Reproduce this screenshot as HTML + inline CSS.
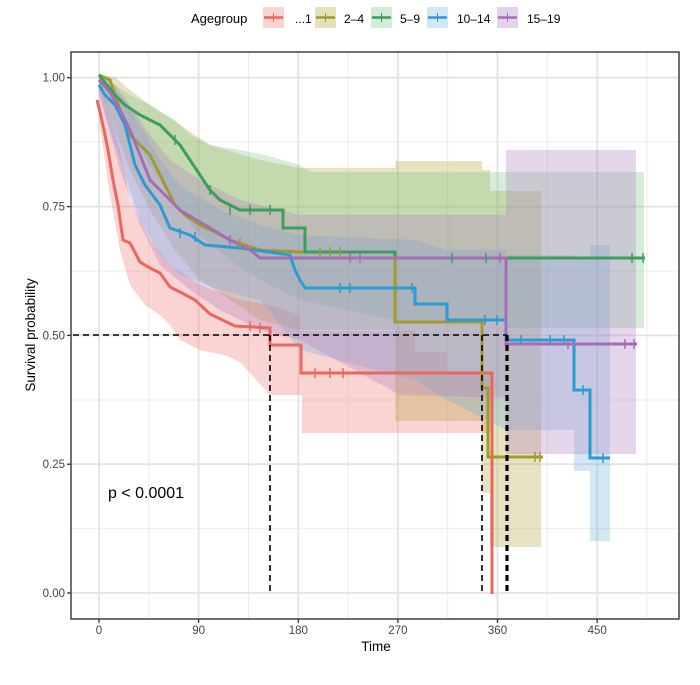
<!DOCTYPE html>
<html><head><meta charset="utf-8"><style>
body{margin:0;background:#fff;}
svg{display:block;font-family:"Liberation Sans",sans-serif;}
</style></head><body>
<svg width="700" height="685" viewBox="0 0 700 685" xmlns="http://www.w3.org/2000/svg">
<rect width="700" height="685" fill="#fff"/>
<!-- legend -->
<text x="191" y="23" font-size="13" fill="#000">Agegroup</text>
<g>
<rect x="263" y="7" width="21" height="21" fill="#F08080" fill-opacity="0.35"/><line x1="264" y1="17.5" x2="283" y2="17.5" stroke="#E8675E" stroke-width="2.5"/><line x1="273.5" y1="13" x2="273.5" y2="22" stroke="#E8675E" stroke-width="1"/>
<text x="295" y="23" font-size="12">...1</text>
<rect x="315" y="7" width="21" height="21" fill="#B5A840" fill-opacity="0.35"/><line x1="316" y1="17.5" x2="335" y2="17.5" stroke="#A39A2A" stroke-width="2.5"/><line x1="325.5" y1="13" x2="325.5" y2="22" stroke="#A39A2A"/>
<text x="344" y="23" font-size="12">2–4</text>
<rect x="371" y="7" width="21" height="21" fill="#6CBF7A" fill-opacity="0.3"/><line x1="372" y1="17.5" x2="391" y2="17.5" stroke="#3A9E5E" stroke-width="2.5"/><line x1="381.5" y1="13" x2="381.5" y2="22" stroke="#3A9E5E"/>
<text x="400" y="23" font-size="12">5–9</text>
<rect x="427" y="7" width="21" height="21" fill="#6AAFD8" fill-opacity="0.3"/><line x1="428" y1="17.5" x2="447" y2="17.5" stroke="#2B9BD2" stroke-width="2.5"/><line x1="437.5" y1="13" x2="437.5" y2="22" stroke="#2B9BD2"/>
<text x="457" y="23" font-size="12">10–14</text>
<rect x="497" y="7" width="21" height="21" fill="#B07FC0" fill-opacity="0.35"/><line x1="498" y1="17.5" x2="517" y2="17.5" stroke="#A46DB5" stroke-width="2.5"/><line x1="507.5" y1="13" x2="507.5" y2="22" stroke="#A46DB5"/>
<text x="527" y="23" font-size="12">15–19</text>
</g>
<!-- grid -->
<g stroke="#ebebeb" stroke-width="1">
<line x1="148.8" y1="52" x2="148.8" y2="619"/><line x1="248.5" y1="52" x2="248.5" y2="619"/><line x1="348" y1="52" x2="348" y2="619"/><line x1="447.7" y1="52" x2="447.7" y2="619"/><line x1="547.3" y1="52" x2="547.3" y2="619"/><line x1="647" y1="52" x2="647" y2="619"/>
<line x1="71" y1="142" x2="679" y2="142"/><line x1="71" y1="271" x2="679" y2="271"/><line x1="71" y1="400" x2="679" y2="400"/><line x1="71" y1="528.6" x2="679" y2="528.6"/>
</g>
<g stroke="#e3e3e3" stroke-width="1.8">
<line x1="99" y1="52" x2="99" y2="619"/><line x1="198.6" y1="52" x2="198.6" y2="619"/><line x1="298.3" y1="52" x2="298.3" y2="619"/><line x1="397.9" y1="52" x2="397.9" y2="619"/><line x1="497.5" y1="52" x2="497.5" y2="619"/><line x1="597.2" y1="52" x2="597.2" y2="619"/>
<line x1="71" y1="77.7" x2="679" y2="77.7"/><line x1="71" y1="206.6" x2="679" y2="206.6"/><line x1="71" y1="335.4" x2="679" y2="335.4"/><line x1="71" y1="464.2" x2="679" y2="464.2"/><line x1="71" y1="593" x2="679" y2="593"/>
</g>
<!-- ribbons -->
<g stroke="none">
<polygon fill="#F08080" fill-opacity="0.35" points="99,77 110,115 120,150 130,200 150,240 170,265 200,285 240,300 270,305 300,315 300,331 415,331 415,352 447,352 447,372 492,372 492,433 302,433 302,395 270,395 240,362 225,355 200,350 180,340 170,325 160,315 145,305 130,285 120,250 110,195 99,120"/>
<polygon fill="#B5A840" fill-opacity="0.32" points="99,75 115,77 130,90 150,105 180,125 210,145 260,160 300,168 395,168 395,161 482,161 482,170 490,170 490,191 541,191 541,547 490,547 490,493 482,493 482,421 395,421 395,330 300,330 260,320 230,300 200,280 175,250 150,210 130,170 115,130 99,85"/>
<polygon fill="#6CBF7A" fill-opacity="0.28" points="99,75 115,85 130,95 150,105 175,120 190,135 210,145 240,150 265,155 300,165 310,172 644,172 644,328 505,328 505,320 395,320 300,300 260,280 230,260 200,235 175,205 150,165 130,130 115,105 99,80"/>
<polygon fill="#6AAFD8" fill-opacity="0.3" points="99,80 110,85 125,100 140,125 160,160 180,185 220,210 260,225 300,235 415,240 447,250 506,250 506,255 574,255 574,257 590,257 590,245 610,245 610,541 590,541 590,471 574,471 574,430 506,430 447,400 415,380 300,350 260,300 220,290 180,275 160,255 140,220 125,175 110,130 99,95"/>
<polygon fill="#B07FC0" fill-opacity="0.32" points="99,77 115,85 130,105 150,135 170,160 200,180 240,200 300,215 400,215 506,215 506,150 636,150 636,454 506,454 506,398 400,395 300,340 260,330 220,310 190,290 160,265 140,225 120,170 105,115 99,90"/>
</g>
<!-- curves -->
<g fill="none" stroke-width="3" stroke-linejoin="miter">
<polyline stroke="#E8675E" points="97,100 100,112 104,130 108,150 113,180 118,205 123,240 130,243 140,262 150,268 160,273 170,287 180,292 195,300 210,314 235,326 270,328 270,345 301,345 301,373 492,373 492,594"/>
<polyline stroke="#A39A2A" points="99,75 110,80 115,95 120,110 125,125 130,135 140,145 150,155 160,175 175,205 185,215 200,225 215,232 230,240 260,250 300,252 395,252 395,322 482,322 482,388 488,388 488,457 543,457"/>
<polyline stroke="#3A9E5E" points="99,75 115,95 125,105 140,115 150,120 160,125 170,135 180,145 190,160 200,175 210,190 220,200 240,210 283,210 283,228 305,228 305,252 395,252 395,258 645,258"/>
<polyline stroke="#2B9BD2" points="99,85 105,95 115,105 125,125 135,165 145,185 160,205 170,228 190,235 205,245 240,248 290,255 295,270 300,280 305,288 415,288 415,304 447,304 447,320 506,320 506,340 574,340 574,390 590,390 590,458 610,458"/>
<polyline stroke="#A46DB5" points="99,80 110,92 120,110 130,130 140,155 150,180 165,195 180,210 200,222 230,240 250,250 260,258 506,258 506,344 637,344"/>
</g>
<!-- censor marks -->
<g stroke-width="1.5">
<g stroke="#3A9E5E"><line x1="452" y1="253" x2="452" y2="263"/><line x1="486" y1="253" x2="486" y2="263"/><line x1="632" y1="253" x2="632" y2="263"/><line x1="643" y1="253" x2="643" y2="263"/><line x1="230" y1="205" x2="230" y2="215"/><line x1="250" y1="205" x2="250" y2="215"/><line x1="270" y1="205" x2="270" y2="215"/><line x1="175" y1="135" x2="175" y2="145"/><line x1="210" y1="185" x2="210" y2="195"/></g>
<g stroke="#2B9BD2"><line x1="412" y1="283" x2="412" y2="293"/><line x1="485" y1="315" x2="485" y2="325"/><line x1="497" y1="315" x2="497" y2="325"/><line x1="521" y1="335" x2="521" y2="345"/><line x1="550" y1="335" x2="550" y2="345"/><line x1="564" y1="335" x2="564" y2="345"/><line x1="603" y1="453" x2="603" y2="463"/><line x1="583" y1="385" x2="583" y2="395"/><line x1="340" y1="283" x2="340" y2="293"/><line x1="350" y1="283" x2="350" y2="293"/><line x1="180" y1="228" x2="180" y2="238"/><line x1="195" y1="232" x2="195" y2="242"/></g>
<g stroke="#A46DB5"><line x1="500" y1="253" x2="500" y2="263"/><line x1="568" y1="339" x2="568" y2="349"/><line x1="625" y1="339" x2="625" y2="349"/><line x1="634" y1="339" x2="634" y2="349"/><line x1="350" y1="253" x2="350" y2="263"/><line x1="360" y1="253" x2="360" y2="263"/><line x1="230" y1="235" x2="230" y2="245"/></g>
<g stroke="#A39A2A"><line x1="535" y1="452" x2="535" y2="462"/><line x1="540" y1="452" x2="540" y2="462"/><line x1="320" y1="247" x2="320" y2="257"/><line x1="330" y1="247" x2="330" y2="257"/><line x1="340" y1="247" x2="340" y2="257"/><line x1="240" y1="238" x2="240" y2="248"/></g>
<g stroke="#E8675E"><line x1="315" y1="368" x2="315" y2="378"/><line x1="330" y1="368" x2="330" y2="378"/><line x1="343" y1="368" x2="343" y2="378"/><line x1="250" y1="321" x2="250" y2="331"/><line x1="260" y1="323" x2="260" y2="333"/></g>
</g>
<!-- median lines -->
<g stroke="#000" fill="none">
<line x1="73" y1="335" x2="507" y2="335" stroke-width="1.6" stroke-dasharray="6,4"/>
<line x1="270" y1="335" x2="270" y2="594" stroke-width="1.6" stroke-dasharray="6,4"/>
<line x1="482" y1="335" x2="482" y2="594" stroke-width="1.6" stroke-dasharray="6,4"/>
<line x1="507" y1="335" x2="507" y2="594" stroke-width="3.2" stroke-dasharray="6,4"/>
</g>
<text x="108" y="498" font-size="16" fill="#000">p &lt; 0.0001</text>
<!-- panel border -->
<rect x="71" y="52" width="608" height="567" fill="none" stroke="#333" stroke-width="1.4"/>
<!-- ticks -->
<g stroke="#333" stroke-width="1.3">
<line x1="67" y1="77.7" x2="71" y2="77.7"/><line x1="67" y1="206.6" x2="71" y2="206.6"/><line x1="67" y1="335.4" x2="71" y2="335.4"/><line x1="67" y1="464.2" x2="71" y2="464.2"/><line x1="67" y1="593" x2="71" y2="593"/>
<line x1="99" y1="619" x2="99" y2="623"/><line x1="198.6" y1="619" x2="198.6" y2="623"/><line x1="298.3" y1="619" x2="298.3" y2="623"/><line x1="397.9" y1="619" x2="397.9" y2="623"/><line x1="497.5" y1="619" x2="497.5" y2="623"/><line x1="597.2" y1="619" x2="597.2" y2="623"/>
</g>
<g font-size="11.5" fill="#444" text-anchor="end">
<text x="65" y="81.5">1.00</text><text x="65" y="210.5">0.75</text><text x="65" y="339.5">0.50</text><text x="65" y="468">0.25</text><text x="65" y="597">0.00</text>
</g>
<g font-size="11.5" fill="#444" text-anchor="middle">
<text x="99" y="634">0</text><text x="198.6" y="634">90</text><text x="298.3" y="634">180</text><text x="397.9" y="634">270</text><text x="497.5" y="634">360</text><text x="597.2" y="634">450</text>
</g>
<text x="376" y="651" font-size="13.5" text-anchor="middle">Time</text>
<text transform="translate(35,335) rotate(-90)" font-size="13.5" text-anchor="middle">Survival probability</text>
</svg>
</body></html>
